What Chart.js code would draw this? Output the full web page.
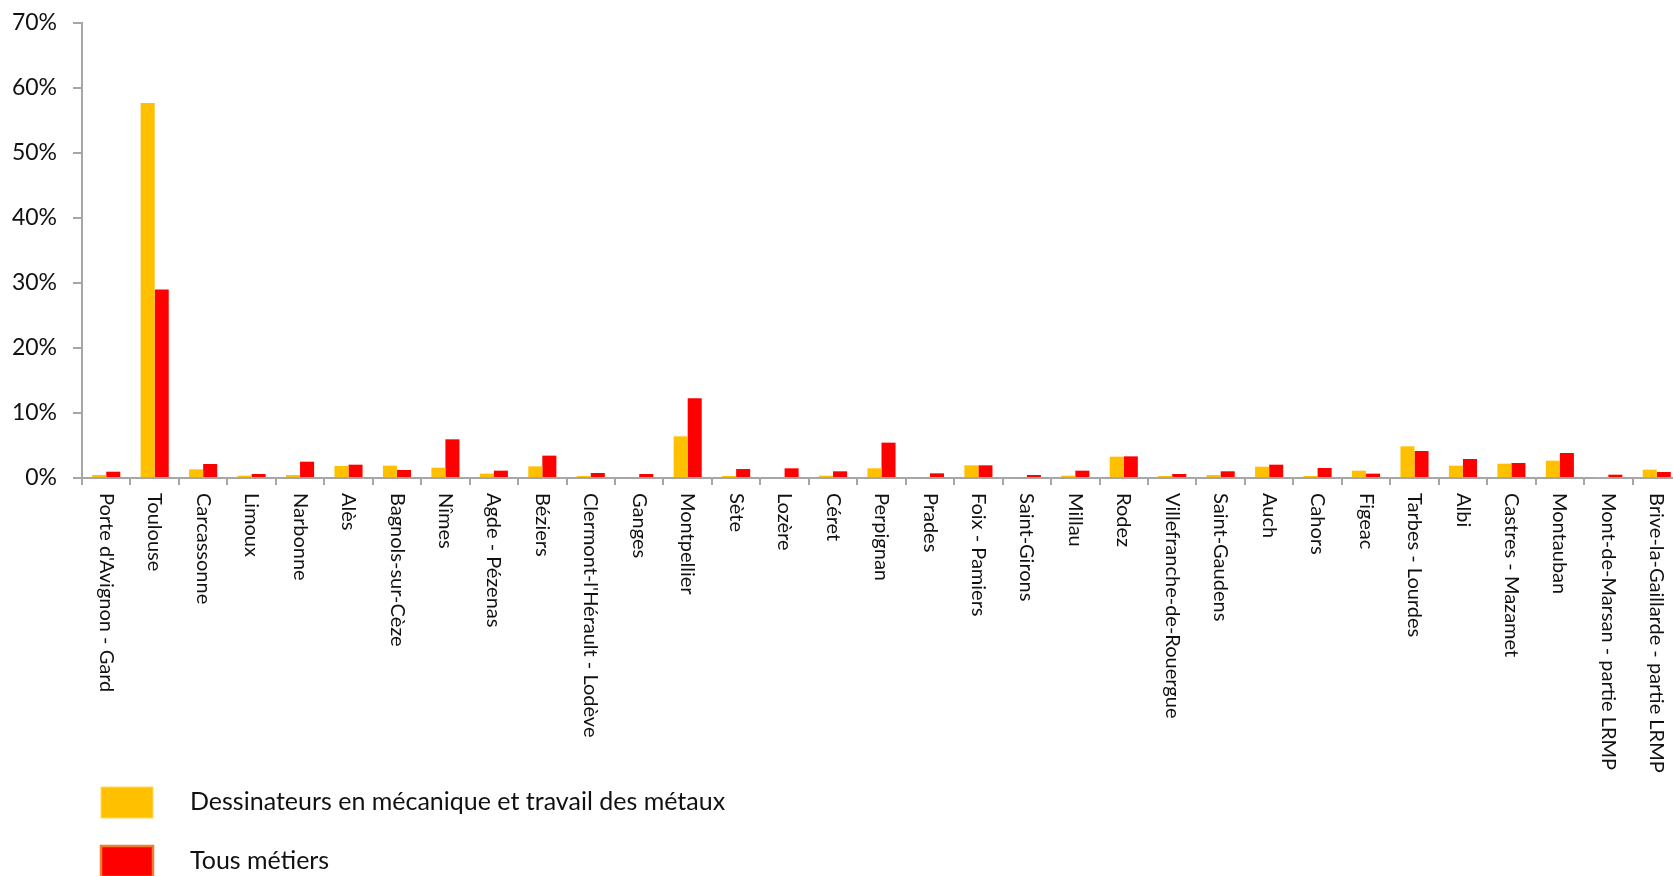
<!DOCTYPE html>
<html lang="fr">
<head>
    <meta charset="UTF-8">
    <title>Dessinateurs en mécanique - répartition par zone</title>
    <script src="https://cdn.jsdelivr.net/npm/chart.js"></script>
    <style>
        html, body {
            margin: 0;
            padding: 0;
            background: #ffffff;
            overflow: hidden;
        }
        .wrap {
            width: 1681px;
            height: 876px;
            position: relative;
        }
    </style>
</head>
<body>
    <div class="wrap">
        <canvas id="zoneChart"></canvas>
    </div>

    <script>
        const zones = [
            "Porte d'Avignon - Gard", 'Toulouse', 'Carcassonne', 'Limoux', 'Narbonne', 'Alès',
            'Bagnols-sur-Cèze', 'Nîmes', 'Agde - Pézenas', 'Béziers', "Clermont-l'Hérault - Lodève",
            'Ganges', 'Montpellier', 'Sète', 'Lozère', 'Céret', 'Perpignan', 'Prades',
            'Foix - Pamiers', 'Saint-Girons', 'Millau', 'Rodez', 'Villefranche-de-Rouergue',
            'Saint-Gaudens', 'Auch', 'Cahors', 'Figeac', 'Tarbes - Lourdes', 'Albi',
            'Castres - Mazamet', 'Montauban', 'Mont-de-Marsan - partie LRMP',
            'Brive-la-Gaillarde - partie LRMP'
        ];
        const dessinateurs = [
            0.46, 57.7, 1.33, 0.36, 0.46, 1.85, 1.9, 1.59, 0.67, 1.79, 0.31,
            0, 6.41, 0.31, 0.15, 0.36, 1.49, 0,
            1.95, 0, 0.36, 3.28, 0.31,
            0.46, 1.74, 0.31, 1.13, 4.87, 1.9,
            2.2, 2.67, 0.1, 1.28
        ];
        const tousMetiers = [
            0.97, 29.0, 2.15, 0.62, 2.51, 2.05, 1.23, 5.95, 1.13, 3.44, 0.77,
            0.62, 12.26, 1.38, 1.49, 1.03, 5.44, 0.72,
            1.95, 0.46, 1.13, 3.33, 0.62,
            1.03, 2.05, 1.54, 0.67, 4.15, 2.92,
            2.31, 3.85, 0.51, 0.92
        ];
        const seriesNames = ['Dessinateurs en mécanique et travail des métaux', 'Tous métiers'];
        const yTicks = [0, 10, 20, 30, 40, 50, 60, 70];

        const FONT = 'Lato, "Open Sans", "DejaVu Sans", sans-serif';
        const AXIS_GREY = '#A6A6A6';
        const TEXT = '#111111';

        // rotated category labels (read top to bottom) + vertical legend
        const extrasPlugin = {
            id: 'extras',
            afterDraw(chart) {
                const ctx = chart.ctx;
                const xs = chart.scales.x;
                ctx.save();
                ctx.fillStyle = TEXT;
                ctx.font = '20px ' + FONT;
                ctx.textAlign = 'left';
                ctx.textBaseline = 'middle';
                zones.forEach((lab, i) => {
                    ctx.save();
                    ctx.translate(xs.getPixelForTick(i), xs.top + 15);
                    ctx.rotate(Math.PI / 2);
                    ctx.fillText(lab, 0, 0);
                    ctx.restore();
                });

                // legend
                const legendBorders = ['#FFD966', '#ED7D31'];
                chart.data.datasets.forEach((ds, i) => {
                    const top = 787 + i * 59;
                    ctx.fillStyle = ds.backgroundColor;
                    ctx.fillRect(101, top, 52, 31);
                    ctx.strokeStyle = legendBorders[i];
                    ctx.lineWidth = i === 1 ? 2.5 : 1;
                    ctx.strokeRect(101, top, 52, 31);
                    ctx.fillStyle = TEXT;
                    ctx.font = '25px ' + FONT;
                    ctx.fillText(ds.label, 190, top + 15);
                });
                ctx.restore();
            }
        };

        new Chart(document.getElementById('zoneChart'), {
            type: 'bar',
            data: {
                labels: zones,
                datasets: [
                    { label: seriesNames[0], data: dessinateurs, backgroundColor: '#FFC000', borderWidth: 0 },
                    { label: seriesNames[1], data: tousMetiers, backgroundColor: '#FF0000', borderWidth: 0 }
                ]
            },
            options: {
                responsive: true,
                maintainAspectRatio: false,
                animation: false,
                categoryPercentage: 0.58,
                barPercentage: 1.0,
                layout: { padding: { top: 23, right: 0, left: 0, bottom: 0 } },
                plugins: {
                    legend: { display: false },
                    tooltip: { enabled: false }
                },
                scales: {
                    x: {
                        grid: {
                            drawOnChartArea: false,
                            color: AXIS_GREY,
                            lineWidth: 2,
                            tickLength: 7
                        },
                        border: { color: AXIS_GREY, width: 2 },
                        ticks: { display: false },
                        afterFit: (s) => { s.height = 398; }
                    },
                    y: {
                        min: 0,
                        max: 70,
                        afterBuildTicks: (s) => { s.ticks = yTicks.map(v => ({ value: v })); },
                        grid: {
                            drawOnChartArea: false,
                            color: AXIS_GREY,
                            lineWidth: 2,
                            tickLength: 9
                        },
                        border: { color: AXIS_GREY, width: 2 },
                        ticks: {
                            color: TEXT,
                            padding: 16,
                            font: { size: 23, family: FONT },
                            callback: (v) => v + '%'
                        },
                        afterFit: (s) => {
                            s.width = 82;
                            s.paddingTop = 10;
                            s.paddingBottom = 0;
                        }
                    }
                }
            },
            plugins: [extrasPlugin]
        });
    </script>
</body>
</html>
